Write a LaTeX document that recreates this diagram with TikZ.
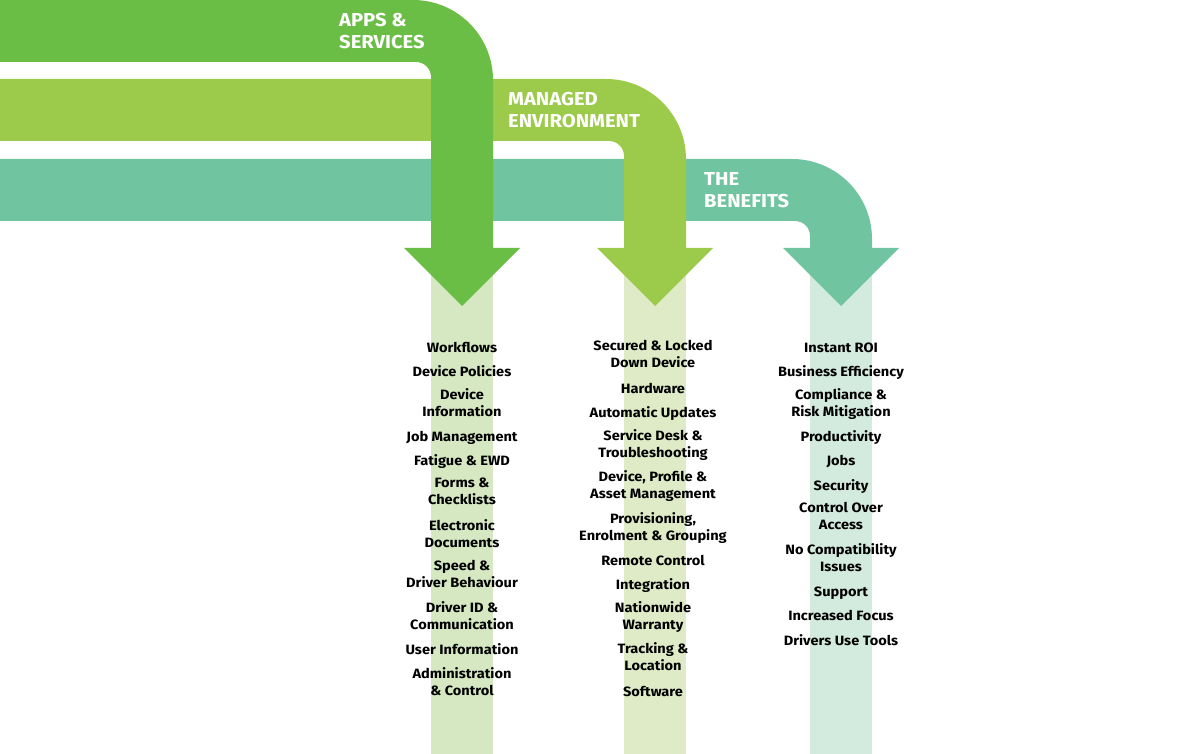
\documentclass[tikz,border=0pt]{standalone}
\usepackage{fontspec}
\setmainfont[FakeStretch=1.08]{Fira Sans}
\usepackage{tikz}
\definecolor{color1}{HTML}{6ABD45}
\definecolor{color2}{HTML}{9CCB4B}
\definecolor{color3}{HTML}{70C5A0}
\definecolor{color1l}{HTML}{D5E8C2}
\definecolor{color2l}{HTML}{DFEBC6}
\definecolor{color3l}{HTML}{D3EBDF}
\tikzset{
  heading/.style={anchor=north west, align=left, inner sep=0pt, text=white,
    font=\fontsize{18.7}{22}\selectfont\bfseries},
  entry/.style={anchor=north, align=center, inner sep=0pt,
    font=\fontsize{13.5}{17}\selectfont\bfseries,
    execute at begin node=\strut},
}

\begin{document}
\begin{tikzpicture}[x=1pt,y=-1pt]
  \useasboundingbox (0,0) rectangle (1200,754);

  % pale columns under the arrows
  \foreach \x/\c in {431/color1l,624/color2l,810/color3l}
    \fill [\c] (\x,248) rectangle ({\x+62},754);

  % bent arrows, back to front
  \foreach \x/\y/\c in {810/159/color3,624/79/color2,431/0/color1}{
    \fill [\c] (0,\y) -- ({\x-18},\y) arc [start angle=-90,end angle=0,radius=80]
      -- ({\x+62},248) -- ({\x+89},248) -- ({\x+31},306) -- ({\x-27},248)
      -- (\x,248) -- (\x,{\y+77}) arc [start angle=0,end angle=-90,radius=15]
      -- (0,{\y+62}) -- cycle;
  }

  \node [heading] (apps) at (339,13) {APPS \&\\SERVICES};
  \node [heading] (managed) at (508,92) {MANAGED\\ENVIRONMENT};
  \node [heading] (benefits) at (704,172) {THE\\BENEFITS};

  % lists: number of lines / text
  \foreach \n/\txt [count=\i, remember=\ynext as \y (initially 340),
      evaluate=\n as \ynext using \y+24.2+17*(\n-1)] in {1/Workflows,
    1/Device Policies, 2/Device\\Information, 1/Job Management, 1/Fatigue \& EWD,
    2/Forms \&\\Checklists, 2/Electronic\\Documents, 2/Speed \&\\Driver Behaviour,
    2/Driver ID \&\\Communication, 1/User Information, 2/Administration\\\& Control}
    \node [entry] (apps-\i) at (462,\y) {\txt};

  \foreach \n/\txt [count=\i, remember=\ynext as \y (initially 340),
      evaluate=\n as \ynext using \y+24.2+17*(\n-1)] in {2/Secured \& Locked\\Down Device,
    1/Hardware, 1/Automatic Updates, 2/Service Desk \&\\Troubleshooting,
    2/Device{,} Profile \&\\Asset Management, 2/Provisioning{,}\\Enrolment \& Grouping,
    1/Remote Control, 1/Integration, 2/Nationwide\\Warranty, 2/Tracking \&\\Location,
    1/Software}
    \node [entry] (env-\i) at (653,\y) {\txt};

  \foreach \n/\txt [count=\i, remember=\ynext as \y (initially 340),
      evaluate=\n as \ynext using \y+24.2+17*(\n-1)] in {1/Instant ROI,
    1/Business Efficiency, 2/Compliance \&\\Risk Mitigation, 1/Productivity, 1/Jobs,
    1/Security, 2/Control Over\\Access, 2/No Compatibility\\Issues, 1/Support,
    1/Increased Focus, 1/Drivers Use Tools}
    \node [entry] (ben-\i) at (841,\y) {\txt};
\end{tikzpicture}
\end{document}
